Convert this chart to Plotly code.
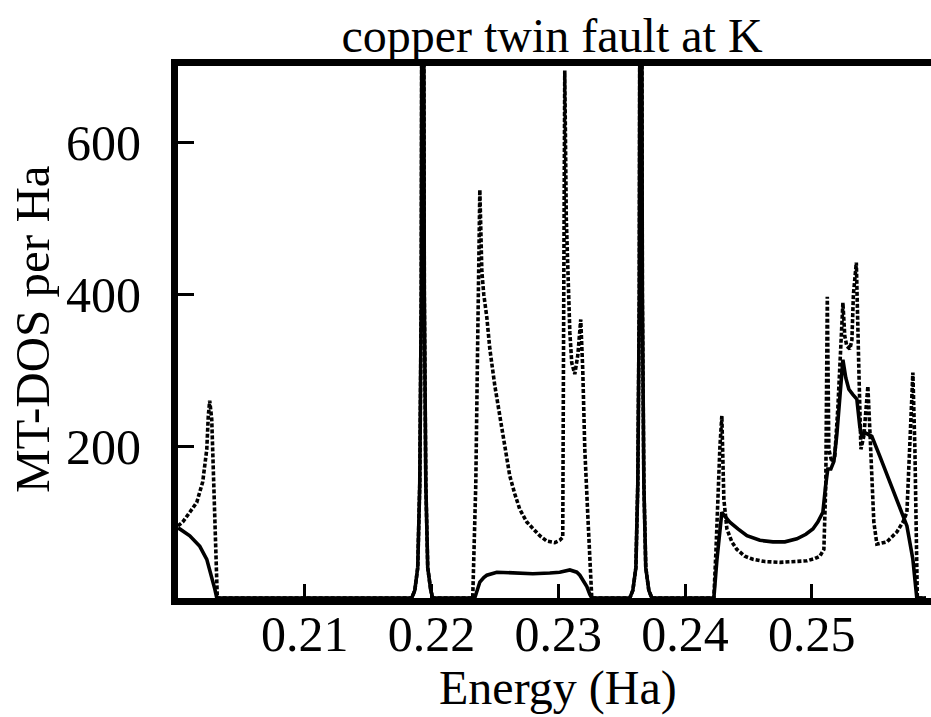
import plotly.graph_objects as go

# ---------------- data ----------------
# Energies (Ha) and MT-DOS per Ha for the solid curve
solid_energy = [
    0.20000, 0.20014, 0.20093, 0.20172, 0.20227, 0.20266, 0.20290, 0.20306,
    0.21000, 0.21844, 0.21868, 0.21891, 0.21907, 0.21919, 0.21931, 0.21943,
    0.21955, 0.21970, 0.21994, 0.22010,
    0.22341, 0.22365, 0.22381, 0.22412, 0.22436, 0.22515, 0.22657, 0.22799,
    0.22933, 0.23011, 0.23091, 0.23146, 0.23170, 0.23201, 0.23225, 0.23248,
    0.23264,
    0.23564, 0.23588, 0.23612, 0.23627, 0.23639, 0.23651, 0.23663, 0.23675,
    0.23690, 0.23714, 0.23738,
    0.24227, 0.24251, 0.24275, 0.24290, 0.24322, 0.24353, 0.24417, 0.24488,
    0.24590, 0.24693, 0.24787, 0.24882, 0.24953, 0.25008, 0.25047, 0.25087,
    0.25110, 0.25126, 0.25150, 0.25174, 0.25197, 0.25221, 0.25245, 0.25268,
    0.25292, 0.25324, 0.25355, 0.25379, 0.25394, 0.25418, 0.25442, 0.25473,
    0.25536, 0.25639, 0.25750, 0.25797, 0.25828, 0.25900,
]
solid_dos = [
    92, 91, 82, 68, 51, 29, 12, 0,
    0, 0, 10, 40, 150, 400, 1500, 400,
    150, 40, 10, 0,
    0, 12, 21, 27, 30, 34, 33, 32,
    33, 34, 37, 34, 30, 22, 15, 5,
    0,
    0, 10, 40, 150, 400, 1500, 400, 150,
    40, 10, 0,
    0, 50, 95, 113, 106, 100, 91, 82,
    76, 74, 74, 78, 84, 91, 100, 113,
    150, 170, 170, 180, 215, 262, 314, 290,
    275, 268, 262, 225, 213, 218, 216, 213,
    187, 143, 95, 51, 0, 0,
]

# Energies (Ha) and MT-DOS per Ha for the dotted curve
dotted_energy = [
    0.20000, 0.20037, 0.20093, 0.20148, 0.20195, 0.20227, 0.20239, 0.20250,
    0.20266, 0.20282, 0.20298, 0.20310,
    0.21000, 0.21844, 0.21868, 0.21891, 0.21907, 0.21919, 0.21931, 0.21943,
    0.21955, 0.21970, 0.21994, 0.22010,
    0.22325, 0.22349, 0.22365, 0.22381, 0.22397, 0.22412, 0.22436, 0.22460,
    0.22499, 0.22539, 0.22578, 0.22617, 0.22657, 0.22696, 0.22752, 0.22799,
    0.22854, 0.22909, 0.22972, 0.23011, 0.23035, 0.23043, 0.23051, 0.23063,
    0.23075, 0.23091, 0.23106, 0.23130, 0.23154, 0.23177, 0.23193, 0.23209,
    0.23233, 0.23264,
    0.23564, 0.23588, 0.23612, 0.23627, 0.23639, 0.23651, 0.23663, 0.23675,
    0.23690, 0.23714, 0.23738,
    0.24227, 0.24243, 0.24259, 0.24275, 0.24290, 0.24306, 0.24330, 0.24369,
    0.24409, 0.24472, 0.24535, 0.24629, 0.24748, 0.24866, 0.24961, 0.25024,
    0.25063, 0.25095, 0.25110, 0.25122, 0.25134, 0.25158, 0.25181, 0.25205,
    0.25229, 0.25245, 0.25260, 0.25276, 0.25300, 0.25316, 0.25328, 0.25351,
    0.25371, 0.25387, 0.25410, 0.25426, 0.25442, 0.25458, 0.25473, 0.25489,
    0.25513, 0.25552, 0.25592, 0.25671, 0.25718, 0.25750, 0.25773, 0.25797,
    0.25813, 0.25824, 0.25832, 0.25900,
]
dotted_dos = [
    95, 100, 113, 126, 153, 196, 240, 260,
    236, 153, 64, 0,
    0, 0, 10, 40, 150, 400, 1500, 400,
    150, 40, 10, 0,
    0, 150, 350, 538, 430, 400, 370, 328,
    280, 240, 200, 161, 137, 117, 100, 91,
    82, 75, 73, 76, 80, 400, 695, 500,
    420, 350, 310, 295, 320, 367, 300, 196,
    108, 0,
    0, 10, 40, 150, 400, 1500, 400, 150,
    40, 10, 0,
    0, 60, 140, 200, 240, 130, 91, 74,
    64, 55, 51, 48, 47, 48, 49, 52,
    55, 64, 150, 397, 196, 179, 187, 250,
    340, 389, 345, 332, 328, 340, 400, 442,
    300, 196, 213, 250, 279, 220, 153, 100,
    71, 72, 74, 87, 100, 113, 200, 297,
    196, 80, 0, 0,
]

x_ticks = [0.21, 0.22, 0.23, 0.24, 0.25]
x_ticklabels = ["0.21", "0.22", "0.23", "0.24", "0.25"]
y_ticks = [200, 400, 600]
y_ticklabels = ["200", "400", "600"]

title_text = "copper twin fault at K"
x_title = "Energy (Ha)"
y_title = "MT-DOS per Ha"

FONT = "Liberation Serif, Times New Roman, serif"

fig = go.Figure()
fig.add_trace(go.Scatter(
    x=dotted_energy, y=dotted_dos, mode="lines",
    line=dict(color="black", width=3.6, dash="4px,2px"),
    showlegend=False, hoverinfo="skip",
))
fig.add_trace(go.Scatter(
    x=solid_energy, y=solid_dos, mode="lines",
    line=dict(color="black", width=3.6),
    showlegend=False, hoverinfo="skip",
))

fig.update_layout(
    width=931, height=717,
    margin=dict(l=178, r=0, t=66, b=119, pad=0),
    paper_bgcolor="white", plot_bgcolor="white",
    font=dict(family=FONT, color="black", size=48),
    title=dict(text=title_text, x=552 / 931, xanchor="center",
               y=1 - 35 / 717, yanchor="middle",
               font=dict(family=FONT, size=48, color="black")),
    annotations=[
        dict(text=x_title, xref="paper", yref="paper",
             x=(558 - 178) / 753, y=-(688 - 598) / 532,
             xanchor="center", yanchor="middle", showarrow=False,
             font=dict(family=FONT, size=48, color="black")),
        dict(text=y_title, xref="paper", yref="paper",
             x=-(178 - 32) / 753, y=0.5 - (329 - 332) / 532,
             xanchor="center", yanchor="middle", textangle=-90,
             showarrow=False,
             font=dict(family=FONT, size=49, color="black")),
    ],
)

fig.update_xaxes(
    range=[0.2, 0.2594], showgrid=False, zeroline=False,
    showline=True, linewidth=7, linecolor="black", mirror=True,
    ticks="inside", ticklen=14, tickwidth=3, tickcolor="black",
    tickvals=x_ticks, ticktext=x_ticklabels,
    tickfont=dict(family=FONT, size=50, color="black"),
    ticklabelstandoff=-14,
)
fig.update_yaxes(
    range=[0, 701], showgrid=False, zeroline=False,
    showline=True, linewidth=7, linecolor="black", mirror=False,
    ticks="inside", ticklen=16, tickwidth=3, tickcolor="black",
    tickvals=y_ticks, ticktext=y_ticklabels,
    tickfont=dict(family=FONT, size=50, color="black"),
    ticklabelstandoff=20,
)

fig.write_html("out.html")
